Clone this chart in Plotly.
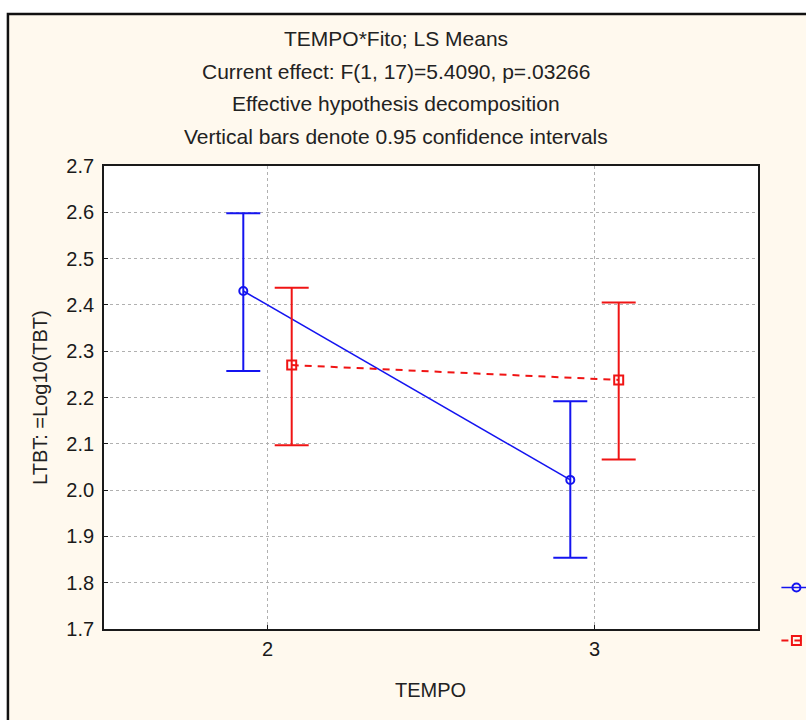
import plotly.graph_objects as go

# ---- data ----
tempo = [2, 3]
tick_labels = ["2", "3"]
series_names = [" ", " "]  # legend labels are cut off in the reference
blue_mean = [2.430, 2.022]
blue_upper = [2.598, 2.192]
blue_lower = [2.257, 1.854]
red_mean = [2.270, 2.238]
red_upper = [2.437, 2.405]
red_lower = [2.097, 2.066]
title_lines = [
    "TEMPO*Fito; LS Means",
    "Current effect: F(1, 17)=5.4090, p=.03266",
    "Effective hypothesis decomposition",
    "Vertical bars denote 0.95 confidence intervals",
]
y_title = "LTBT: =Log10(TBT)"
x_title = "TEMPO"

# ---- layout geometry (pixels) ----
W_FIG, H_FIG = 806, 720
L, R, T, B = 104, 757.6, 166, 629
PW, PH = R - L, B - T

def px_x(px):
    return (px - L) / PW

def px_y(py):
    return (B - py) / PH

FONT = "Liberation Sans, Arial, sans-serif"
CREAM = "#fff9ee"
BLUE = "#1414f0"
RED = "#f01414"
DODGE = 0.074

fig = go.Figure()

fig.add_trace(go.Scatter(
    x=[t - DODGE for t in tempo], y=blue_mean, name=series_names[0],
    mode="lines+markers",
    line=dict(color=BLUE, width=1.6),
    marker=dict(symbol="circle-open", size=8, color=BLUE, line=dict(width=2)),
    error_y=dict(type="data", symmetric=False,
                 array=[u - m for u, m in zip(blue_upper, blue_mean)],
                 arrayminus=[m - l for m, l in zip(blue_mean, blue_lower)],
                 color=BLUE, thickness=2, width=17),
    legendgroup="a",
))
fig.add_trace(go.Scatter(
    x=[t + DODGE for t in tempo], y=red_mean, name=series_names[1],
    mode="lines+markers",
    line=dict(color=RED, width=2, dash="7px,6px"),
    marker=dict(symbol="square-open", size=9, color=RED, line=dict(width=2)),
    error_y=dict(type="data", symmetric=False,
                 array=[u - m for u, m in zip(red_upper, red_mean)],
                 arrayminus=[m - l for m, l in zip(red_mean, red_lower)],
                 color=RED, thickness=2, width=17),
    legendgroup="b",
))

shapes = [
    dict(type="rect", xref="paper", yref="paper",
         x0=px_x(8), x1=px_x(950), y0=px_y(800), y1=px_y(14),
         fillcolor=CREAM, line=dict(color="#111111", width=2.5), layer="below"),
    dict(type="rect", xref="paper", yref="paper",
         x0=0, x1=1, y0=0, y1=1,
         fillcolor="white", line=dict(width=0), layer="below"),
]

annotations = []
title_y = [38.7, 71.2, 103.6, 136.0]
for txt, py in zip(title_lines, title_y):
    annotations.append(dict(
        text=txt, xref="paper", yref="paper", x=px_x(396), y=px_y(py),
        xanchor="center", yanchor="middle", showarrow=False,
        font=dict(family=FONT, size=21, color="#222222")))
annotations.append(dict(
    text=y_title, xref="paper", yref="paper", x=px_x(40), y=px_y(397),
    xanchor="center", yanchor="middle", textangle=-90, showarrow=False,
    font=dict(family=FONT, size=20, color="#222222")))
annotations.append(dict(
    text=x_title, xref="paper", yref="paper", x=px_x(430), y=px_y(690),
    xanchor="center", yanchor="middle", showarrow=False,
    font=dict(family=FONT, size=20, color="#222222")))

axis_common = dict(
    showline=True, mirror=True, linecolor="#1a1a1a", linewidth=1.8,
    showgrid=True, gridcolor="#b0b0b0", griddash="dot", gridwidth=1,
    zeroline=False, ticks="inside", ticklen=4, tickcolor="#1a1a1a",
    tickfont=dict(family=FONT, size=20, color="#1a1a1a"),
)

fig.update_layout(
    width=W_FIG, height=H_FIG,
    margin=dict(l=L, r=W_FIG - R, t=T, b=H_FIG - B, autoexpand=False),
    paper_bgcolor="white", plot_bgcolor="white",
    shapes=shapes, annotations=annotations,
    xaxis=dict(range=[1.5, 3.5], tickvals=tempo, ticktext=tick_labels,
               ticklabelstandoff=1, **axis_common),
    yaxis=dict(range=[1.7, 2.7], dtick=0.1, tick0=1.7, tickformat=".1f",
               ticklabelstandoff=4, **axis_common),
    showlegend=True,
    legend=dict(x=px_x(776), y=px_y(568), xanchor="left", yanchor="top",
                bgcolor="rgba(0,0,0,0)", borderwidth=0,
                traceorder="grouped", tracegroupgap=24,
                font=dict(family=FONT, size=20, color="#222222")),
)

fig.write_html("out.html")
